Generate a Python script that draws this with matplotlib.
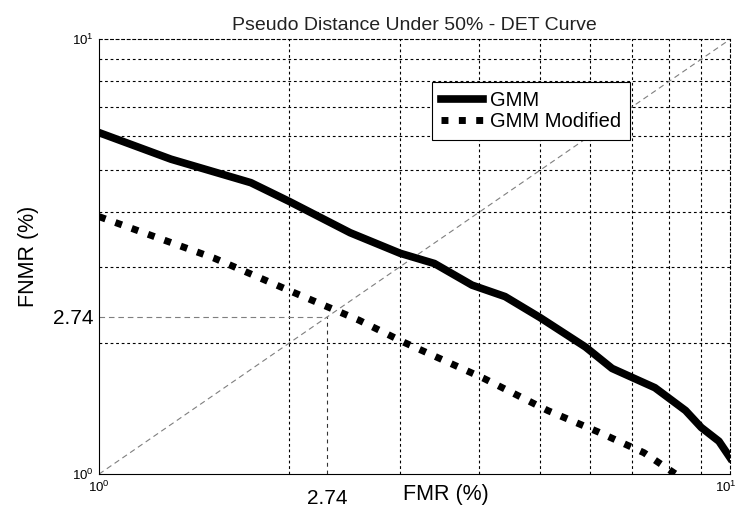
import matplotlib.pyplot as plt
from matplotlib.ticker import FixedLocator, NullFormatter
from matplotlib.transforms import ScaledTranslation

plt.rcParams['font.family'] = ['Liberation Sans', 'DejaVu Sans']
plt.rcParams['mathtext.fontset'] = 'custom'
plt.rcParams['mathtext.rm'] = 'Liberation Sans'
plt.rcParams['mathtext.it'] = 'Liberation Sans:italic'

# DET curve points (FMR %, FNMR %)
gmm_fmr = [1.0, 1.3, 1.74, 2.0, 2.5, 3.0, 3.4, 3.9, 4.4, 5.0, 5.9, 6.5, 7.6, 8.5, 9.0, 9.6, 10.0]
gmm_fnmr = [6.1, 5.3, 4.68, 4.24, 3.59, 3.22, 3.05, 2.72, 2.56, 2.29, 1.96, 1.75, 1.58, 1.40, 1.28, 1.19, 1.09]

mod_fmr = [1.0, 1.52, 2.03, 2.58, 3.04, 4.07, 5.14, 6.18, 7.3, 8.2]
mod_fnmr = [3.91, 3.14, 2.62, 2.26, 2.01, 1.66, 1.40, 1.25, 1.12, 1.0]

labels = ['GMM', 'GMM Modified']
eer_label = '2.74'
eer_pos = 2.3   # where the EER marker is drawn on the log axes
grid_vals = [2, 3, 4, 5, 6, 7, 8, 9]

fig = plt.figure(figsize=(7.39, 5.17), dpi=100)
ax = fig.add_axes([0.134, 0.083, 0.854, 0.841])
ax.set_xscale('log')
ax.set_yscale('log')
ax.set_xlim(1, 10)
ax.set_ylim(1, 10)

# dotted grid at 2..9 only
for axis in (ax.xaxis, ax.yaxis):
    axis.set_minor_locator(FixedLocator(grid_vals))
    axis.set_minor_formatter(NullFormatter())
ax.tick_params(which='minor', length=0)
ax.grid(which='minor', color='k', linestyle=(0, (2.5, 2.5)), linewidth=0.8)
ax.grid(which='major', visible=False)
for s in ('top', 'right'):
    ax.spines[s].set_linestyle((0, (2.5, 2.5)))
    ax.spines[s].set_linewidth(0.8)
ax.set_axisbelow(True)

# ticks: decades + EER
tick_labels = ['$10^0$', eer_label, '$10^1$']
ax.set_xticks([1, eer_pos, 10], tick_labels)
ax.set_yticks([1, eer_pos, 10], tick_labels)
ax.tick_params(which='major', length=0, pad=4)
for lab in ax.get_xticklabels() + ax.get_yticklabels():
    lab.set_fontsize(15 if lab.get_text() == eer_label else 9.5)
xl = ax.get_xticklabels()
xl[1].set_transform(xl[1].get_transform() + ScaledTranslation(0, -0.09, fig.dpi_scale_trans))
xl[2].set_transform(xl[2].get_transform() + ScaledTranslation(-0.04, 0, fig.dpi_scale_trans))

# diagonal and EER guide lines
gray = '#7f7f7f'
ax.plot([1, 10], [1, 10], color=gray, linestyle=(0, (5, 3.5)), linewidth=0.8)
ax.plot([1, eer_pos], [eer_pos, eer_pos], color=gray, linestyle=(0, (5, 3.5)), linewidth=0.8)
ax.plot([eer_pos, eer_pos], [1, eer_pos], color='#333333', linestyle=(0, (3.5, 3.5)), linewidth=0.8)

# curves
ax.plot(gmm_fmr, gmm_fnmr, color='k', linewidth=5.5, label=labels[0],
        solid_joinstyle='round')
ax.plot(mod_fmr, mod_fnmr, color='k', linewidth=5, linestyle=(0, (1, 1.5)),
        label=labels[1])

leg = ax.legend(loc='upper left', bbox_to_anchor=(0.527, 0.902), fancybox=False,
                edgecolor='k', framealpha=1, fontsize=14.5, handlelength=2.1,
                handletextpad=0.35, labelspacing=0.1, borderpad=0.45, borderaxespad=0)
leg.get_frame().set_linewidth(0.8)

ax.set_title('Pseudo Distance Under 50% - DET Curve', fontsize=14, pad=7, color='#222222')
ax.set_xlabel('FMR (%)', fontsize=15.5)
ax.set_ylabel('FNMR (%)', fontsize=15.5)
ax.xaxis.set_label_coords(0.55, -0.022)
ax.yaxis.set_label_coords(-0.095, 0.5)

fig.savefig('out.png', dpi=100)
